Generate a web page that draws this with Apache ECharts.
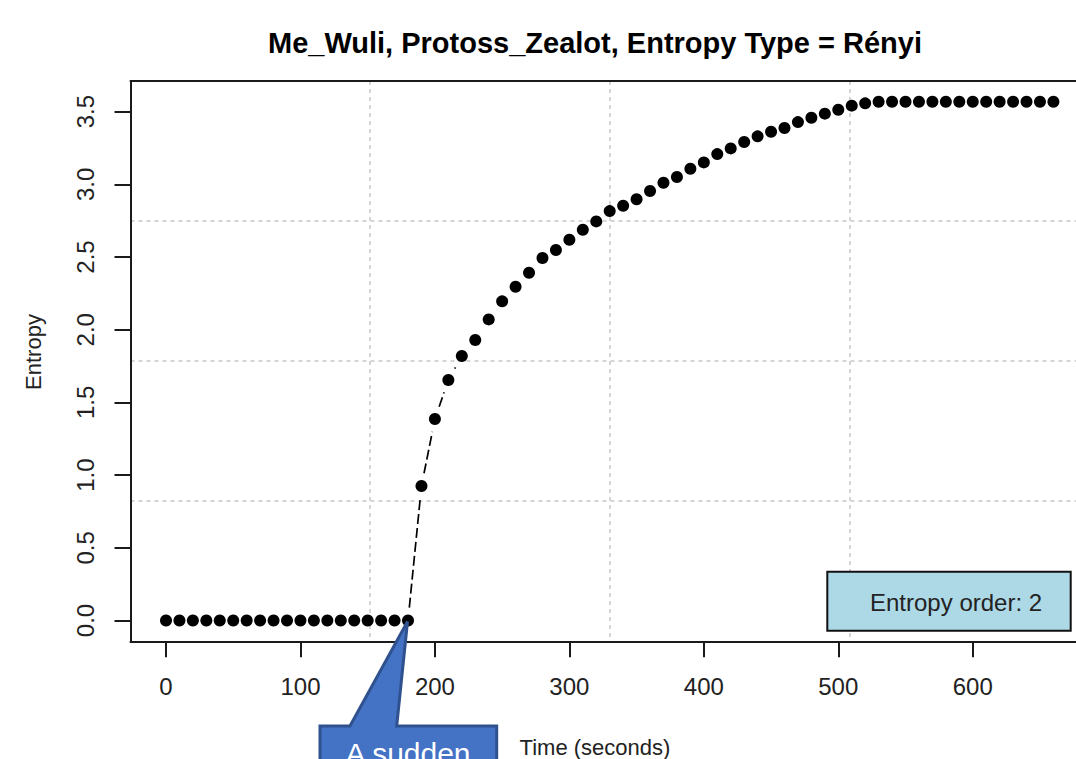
<!DOCTYPE html>
<html><head><meta charset="utf-8">
<script src="https://cdn.jsdelivr.net/npm/echarts@6/dist/echarts.min.js"></script>
<style>html,body{margin:0;padding:0;background:#fff;} #c{width:1076px;height:759px;}</style>
</head><body><div id="c"></div>
<script>
const titleText = 'Me_Wuli, Protoss_Zealot, Entropy Type = Rényi';
const xLabel = 'Time (seconds)';
const yLabel = 'Entropy';
const legendText = 'Entropy order: 2';
const calloutText = 'A sudden';

const times = [0, 10, 20, 30, 40, 50, 60, 70, 80, 90, 100, 110, 120, 130, 140, 150, 160, 170, 180,
  190, 200, 210, 220, 230, 240, 250, 260, 270, 280, 290, 300, 310, 320, 330, 340, 350, 360, 370, 380,
  390, 400, 410, 420, 430, 440, 450, 460, 470, 480, 490, 500, 510, 520, 530, 540, 550, 560, 570, 580,
  590, 600, 610, 620, 630, 640, 650, 660];
const entropy = [0, 0, 0, 0, 0, 0, 0, 0, 0, 0, 0, 0, 0, 0, 0, 0, 0, 0, 0,
  0.925, 1.386, 1.654, 1.819, 1.929, 2.071, 2.195, 2.296, 2.392, 2.493,
  2.548, 2.619, 2.688, 2.745, 2.816, 2.853, 2.897, 2.954, 3.011, 3.050,
  3.107, 3.151, 3.208, 3.247, 3.291, 3.330, 3.362, 3.387, 3.428, 3.458,
  3.486, 3.513, 3.541, 3.557,
  3.568, 3.568, 3.568, 3.568, 3.568, 3.568, 3.568, 3.568, 3.568, 3.568, 3.568, 3.568, 3.568, 3.568];
const xTicks = [0, 100, 200, 300, 400, 500, 600];
const yTicks = [0, 0.5, 1, 1.5, 2, 2.5, 3, 3.5];
// visible part of the plot range (the right edge of the original plot is cropped)
const xRange = [-26.4, 676.8];
const yRange = [-0.1427, 3.7107];
// reference grid: plot range split in 4 equal parts (x range cropped at 3.946 of 4)
const xGridRange = [0, 3.946];
const yGridRange = [0, 4];
const jumpPoint = [180, 0];

const FONT = '"Liberation Sans", Arial, Helvetica, sans-serif';
const points = times.map((t, i) => [t, entropy[i]]);
const segments = times.slice(0, -1).map((t, i) => [t, entropy[i], times[i + 1], entropy[i + 1]]);

const chart = echarts.init(document.getElementById('c'), null, {renderer: 'svg'});

const gridLineStyle = {color: '#c8c8c8', width: 1.5, type: [4, 4]};
const boxLine = {show: true, onZero: false, lineStyle: {color: '#1a1a1a', width: 2}};

const option = {
  animation: false,
  backgroundColor: '#ffffff',
  grid: {left: 130.5, top: 81, right: 0, bottom: 117.75, show: false},
  xAxis: [
    {type: 'value', position: 'bottom', min: xRange[0], max: xRange[1],
     axisLine: boxLine, splitLine: {show: false},
     axisTick: {show: true, customValues: xTicks, length: 16, inside: false, lineStyle: {color: '#1a1a1a', width: 2}},
     axisLabel: {customValues: xTicks, margin: 33, fontSize: 24, color: '#222', fontFamily: FONT}},
    {type: 'value', position: 'top', min: xGridRange[0], max: xGridRange[1], interval: 1,
     axisLine: boxLine, axisTick: {show: false}, axisLabel: {show: false},
     splitLine: {show: true, showMinLine: false, showMaxLine: false, lineStyle: gridLineStyle}}
  ],
  yAxis: [
    {type: 'value', position: 'left', min: yRange[0], max: yRange[1],
     axisLine: boxLine, splitLine: {show: false},
     axisTick: {show: true, customValues: yTicks, length: 16, inside: false, lineStyle: {color: '#1a1a1a', width: 2}},
     axisLabel: {customValues: yTicks, margin: 33, fontSize: 24, color: '#222', fontFamily: FONT, rotate: 90,
                 formatter: v => Number(v).toFixed(1)}},
    {type: 'value', position: 'right', min: yGridRange[0], max: yGridRange[1], interval: 1,
     axisLine: {show: false, onZero: false}, axisTick: {show: false}, axisLabel: {show: false},
     splitLine: {show: true, showMinLine: false, showMaxLine: false, lineStyle: gridLineStyle}}
  ],
  series: [
    {type: 'custom', data: segments, encode: {x: [0, 2], y: [1, 3]}, silent: true, z: 2,
     renderItem: function (params, api) {
       const p0 = api.coord([api.value(0), api.value(1)]);
       const p1 = api.coord([api.value(2), api.value(3)]);
       const dx = p1[0] - p0[0], dy = p1[1] - p0[1];
       const d = Math.hypot(dx, dy);
       const gap = 13;
       if (d <= 2 * gap) return {type: 'group', children: []};
       const ux = dx / d, uy = dy / d;
       return {type: 'line',
         shape: {x1: p0[0] + ux * gap, y1: p0[1] + uy * gap, x2: p1[0] - ux * gap, y2: p1[1] - uy * gap},
         style: {stroke: '#000', lineWidth: 1.7, lineDash: [10, 4]}};
     }},
    {type: 'scatter', data: points, symbol: 'circle', symbolSize: 12,
     itemStyle: {color: '#000', opacity: 1}, z: 3, silent: true}
  ]
};
chart.setOption(option);

const tip = chart.convertToPixel({xAxisIndex: 0, yAxisIndex: 0}, jumpPoint);
chart.setOption({
  graphic: [
    {type: 'text', x: 595, y: 43, z: 100,
     style: {text: titleText, font: 'bold 29px ' + FONT, fill: '#000', align: 'center', verticalAlign: 'middle'}},
    {type: 'text', x: 595, y: 747, z: 100,
     style: {text: xLabel, font: '22px ' + FONT, fill: '#222', align: 'center', verticalAlign: 'middle'}},
    {type: 'text', x: 33, y: 352, rotation: Math.PI / 2, z: 100,
     style: {text: yLabel, font: '22px ' + FONT, fill: '#222', align: 'center', verticalAlign: 'middle'}},
    {type: 'rect', z: 100, shape: {x: 827.3, y: 571.7, width: 243.4, height: 59},
     style: {fill: '#ADD8E6', stroke: '#111', lineWidth: 2}},
    {type: 'text', x: 870, y: 602, z: 101,
     style: {text: legendText, font: '24px ' + FONT, fill: '#222', align: 'left', verticalAlign: 'middle'}},
    {type: 'polygon', z: 110,
     shape: {points: [[320, 726], [350, 726], [tip[0] - 0.5, tip[1] + 1], [396.7, 726], [496.7, 726], [496.7, 800], [320, 800]]},
     style: {fill: '#4472C4', stroke: '#2F528F', lineWidth: 3, lineJoin: 'miter'}},
    {type: 'text', x: 408, y: 753, z: 111,
     style: {text: calloutText, font: '30px ' + FONT, fill: '#ffffff', align: 'center', verticalAlign: 'middle'}}
  ]
});
</script>
</body></html>
